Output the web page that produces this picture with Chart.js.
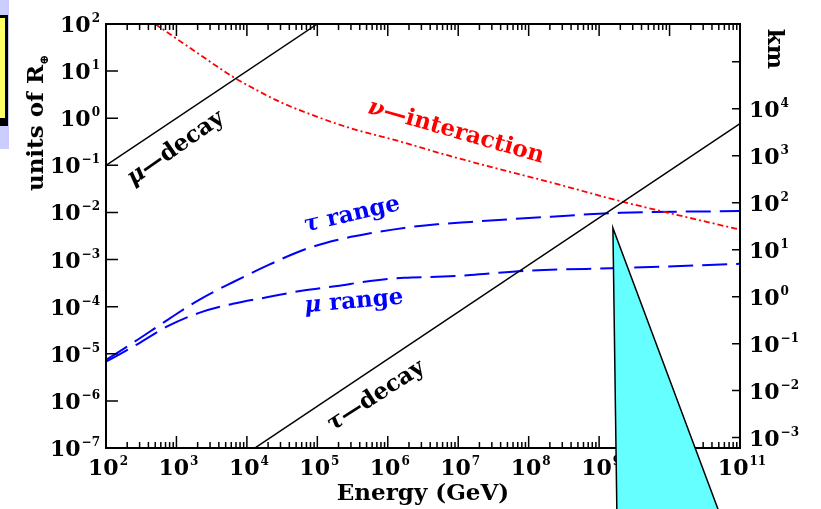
<!DOCTYPE html>
<html lang="en">
<head>
<meta charset="UTF-8">
<title>Decay lengths and ranges</title>
<style>
  body { margin: 0; padding: 0; background: #fff; }
  .wrap { position: relative; width: 821px; height: 509px; }
</style>
</head>
<body>
<div class="wrap"><canvas id="ranges"></canvas></div>
<script src="https://cdn.jsdelivr.net/npm/chart.js"></script>
<script>
// Energies in GeV, lengths in units of the Earth radius
const EARTH_RADIUS_KM = 6371;

const muDecayEnergy = [1e2, 1e5];
const muDecayLength = [1e-1, 1e2];

const tauDecayEnergy = [1e4, 1e11];
const tauDecayLength = [7.7e-8, 0.77];

const nuEnergy = [5e2, 1e3, 2.1e3, 6.3e3, 1.4e4, 3e4, 1e5, 2.9e5, 1.5e6, 7.6e6, 3.9e7, 2e8, 2e9, 1e11];
const nuLength = [100, 49, 22.9, 7.6, 3.9, 2.19, 1.07, 0.62, 0.32, 0.158, 0.083, 0.044, 0.0174, 0.0043];

const rangeEnergy = [1e2, 2.4e2, 7.4e2, 2.1e3, 6.3e3, 2e4, 6.3e4, 1.9e5, 5.6e5, 1.7e6, 5e6, 1.5e7, 1e8, 2e9, 1e11];
const tauRange = [7.4e-6, 1.7e-5, 5.2e-5, 1.4e-4, 3.3e-4, 7.6e-4, 1.6e-3, 2.6e-3, 3.6e-3, 4.7e-3, 5.6e-3, 6.3e-3, 7.6e-3, 9.8e-3, 1.07e-2];
const muRange = [6.8e-6, 1.4e-5, 3.8e-5, 7.4e-5, 1.15e-4, 1.6e-4, 2.2e-4, 2.75e-4, 3.5e-4, 4.1e-4, 4.3e-4, 4.7e-4, 5.8e-4, 6.6e-4, 8.1e-4];

// decade exponents for the tick labels
const energyExps = [2, 3, 4, 5, 6, 7, 8, 9, 10, 11];
const earthExps = [-7, -6, -5, -4, -3, -2, -1, 0, 1, 2];
const kmExps = [-3, -2, -1, 0, 1, 2, 3, 4, 5];
const kmLabelExps = [-3, -2, -1, 0, 1, 2, 3, 4];

// text placed along the curves: greek letter, rest, anchor energy, anchor length, angle
const curveLabels = [
  { greek: 'μ', rest: '—decay', energy: 9.8e2, length: 0.23, angle: -35, color: '#000' },
  { greek: 'ν', rest: '—interaction', energy: 9.3e6, length: 0.51, angle: 16, color: '#ff0000' },
  { greek: 'τ', rest: ' range', energy: 3.1e5, length: 8.9e-3, angle: -13, color: '#0000ff' },
  { greek: 'μ', rest: ' range', energy: 3.3e5, length: 1.26e-4, angle: -5, color: '#0000ff' },
  { greek: 'τ', rest: '—decay', energy: 6.8e5, length: 1.26e-6, angle: -33, color: '#000' }
];

// tip of the cyan pointer
const pointerEnergy = 1.57e9;
const pointerLength = 4.7e-3;

const SERIF = '"DejaVu Serif", serif';
const toPoints = (xs, ys) => xs.map((x, i) => ({ x: x, y: ys[i] }));

function drawPower(ctx, exp, x, cy, align) {
  const sup = String(exp).replace('-', '\u2212');
  ctx.font = 'bold 22px ' + SERIF;
  const wb = ctx.measureText('10').width;
  ctx.font = 'bold 12px ' + SERIF;
  const ws = ctx.measureText(sup).width + 1;
  const total = wb + ws;
  let left = x - total / 2;
  if (align === 'right') left = x - total;
  if (align === 'left') left = x;
  ctx.textAlign = 'left';
  ctx.textBaseline = 'alphabetic';
  ctx.font = 'bold 22px ' + SERIF;
  ctx.fillText('10', left, cy + 8);
  ctx.font = 'bold 12px ' + SERIF;
  ctx.fillText(sup, left + wb + 1, cy - 2);
}

const frame = {
  id: 'frame',
  beforeDraw(chart) {
    const ctx = chart.ctx;
    ctx.save();
    ctx.fillStyle = '#fff';
    ctx.fillRect(0, 0, chart.width, chart.height);
    // side strip with the yellow box
    ctx.fillStyle = '#ccccff';
    ctx.fillRect(0, 0, 9, 149);
    ctx.fillStyle = '#000';
    ctx.fillRect(0, 15, 8, 111);
    ctx.fillStyle = '#ffff66';
    ctx.fillRect(0, 18, 5, 100);
    ctx.restore();
  },
  afterDatasetsDraw(chart) {
    const ctx = chart.ctx;
    const a = chart.chartArea;
    const x = chart.scales.x, y = chart.scales.y, km = chart.scales.km;
    ctx.save();
    ctx.strokeStyle = '#000';
    ctx.fillStyle = '#000';
    ctx.lineWidth = 2;
    ctx.strokeRect(a.left, a.top, a.right - a.left, a.bottom - a.top);

    ctx.lineWidth = 1.5;
    ctx.beginPath();
    energyExps.forEach(e => {
      const px = x.getPixelForValue(Math.pow(10, e));
      ctx.moveTo(px, a.bottom); ctx.lineTo(px, a.bottom - 12);
      ctx.moveTo(px, a.top); ctx.lineTo(px, a.top + 12);
      if (e < 11) {
        for (let k = 2; k <= 9; k++) {
          const pm = x.getPixelForValue(k * Math.pow(10, e));
          ctx.moveTo(pm, a.bottom); ctx.lineTo(pm, a.bottom - 6);
          ctx.moveTo(pm, a.top); ctx.lineTo(pm, a.top + 6);
        }
      }
    });
    earthExps.forEach(e => {
      const py = y.getPixelForValue(Math.pow(10, e));
      ctx.moveTo(a.left, py); ctx.lineTo(a.left + 12, py);
    });
    kmExps.forEach(e => {
      const py = km.getPixelForValue(Math.pow(10, e));
      ctx.moveTo(a.right, py); ctx.lineTo(a.right - 8, py);
    });
    ctx.stroke();

    energyExps.forEach(e => drawPower(ctx, e, x.getPixelForValue(Math.pow(10, e)) + 2, 467, 'center'));
    earthExps.forEach(e => drawPower(ctx, e, a.left - 6, y.getPixelForValue(Math.pow(10, e)), 'right'));
    kmLabelExps.forEach(e => drawPower(ctx, e, a.right + 9, km.getPixelForValue(Math.pow(10, e)), 'left'));

    // axis titles
    ctx.font = 'bold 23px ' + SERIF;
    ctx.textBaseline = 'alphabetic';
    ctx.textAlign = 'center';
    ctx.fillText('Energy (GeV)', (a.left + a.right) / 2, 500);

    ctx.save();
    ctx.translate(43, 123);
    ctx.rotate(-Math.PI / 2);
    ctx.font = 'bold 23px ' + SERIF;
    const w1 = ctx.measureText('units of R').width;
    ctx.font = 'bold 12px ' + SERIF;
    const w2 = ctx.measureText('\u2295').width;
    ctx.textAlign = 'left';
    ctx.font = 'bold 23px ' + SERIF;
    ctx.fillText('units of R', -(w1 + w2) / 2, 0);
    ctx.font = 'bold 12px ' + SERIF;
    ctx.fillText('\u2295', -(w1 + w2) / 2 + w1, 5);
    ctx.restore();

    ctx.save();
    ctx.translate(768, 49);
    ctx.rotate(Math.PI / 2);
    ctx.font = 'bold 23px ' + SERIF;
    ctx.textAlign = 'center';
    ctx.fillText('km', 0, 0);
    ctx.restore();

    // curve names
    curveLabels.forEach(l => {
      const cx = x.getPixelForValue(l.energy);
      const cy = y.getPixelForValue(l.length);
      ctx.save();
      ctx.translate(cx, cy);
      ctx.rotate(l.angle * Math.PI / 180);
      ctx.fillStyle = l.color;
      ctx.textAlign = 'left';
      ctx.font = 'italic bold 23px ' + SERIF;
      const wg = ctx.measureText(l.greek).width;
      ctx.font = 'bold 23px ' + SERIF;
      const wr = ctx.measureText(l.rest).width;
      const start = -(wg + wr) / 2;
      ctx.font = 'italic bold 23px ' + SERIF;
      ctx.fillText(l.greek, start, 6);
      ctx.font = 'bold 23px ' + SERIF;
      ctx.fillText(l.rest, start + wg, 6);
      ctx.restore();
    });
    ctx.restore();
  },
  afterDraw(chart) {
    const ctx = chart.ctx;
    const tx = chart.scales.x.getPixelForValue(pointerEnergy);
    const ty = chart.scales.y.getPixelForValue(pointerLength);
    const h = chart.height - ty;
    ctx.save();
    ctx.beginPath();
    ctx.moveTo(tx, ty);
    ctx.lineTo(tx + h * 0.375, chart.height + 1);
    ctx.lineTo(tx + h * 0.014, chart.height + 1);
    ctx.closePath();
    ctx.fillStyle = '#66ffff';
    ctx.fill();
    ctx.strokeStyle = '#000';
    ctx.lineWidth = 1.5;
    ctx.stroke();
    ctx.restore();
  }
};

const ctx = document.getElementById('ranges').getContext('2d');
new Chart(ctx, {
  type: 'line',
  data: {
    datasets: [
      { label: 'mu decay', data: toPoints(muDecayEnergy, muDecayLength), borderColor: '#000', borderWidth: 1.5, clip: 0 },
      { label: 'tau decay', data: toPoints(tauDecayEnergy, tauDecayLength), borderColor: '#000', borderWidth: 1.5, clip: 0 },
      { label: 'nu interaction', data: toPoints(nuEnergy, nuLength), borderColor: '#ff0000', borderWidth: 1.8,
        borderDash: [6, 3, 2, 3], cubicInterpolationMode: 'monotone', clip: 0 },
      { label: 'tau range', data: toPoints(rangeEnergy, tauRange), borderColor: '#0000ff', borderWidth: 2,
        borderDash: [25, 9], cubicInterpolationMode: 'monotone', clip: 0 },
      { label: 'mu range', data: toPoints(rangeEnergy, muRange), borderColor: '#0000ff', borderWidth: 2,
        borderDash: [25, 9], cubicInterpolationMode: 'monotone', clip: 0 }
    ]
  },
  options: {
    responsive: true,
    maintainAspectRatio: false,
    animation: false,
    layout: { padding: { left: 106, right: 81, top: 24, bottom: 61 } },
    elements: { point: { radius: 0 } },
    plugins: { legend: { display: false }, tooltip: { enabled: false } },
    scales: {
      x: { type: 'logarithmic', min: 1e2, max: 1e11, display: false },
      y: { type: 'logarithmic', min: 1e-7, max: 1e2, display: false },
      km: { type: 'logarithmic', axis: 'y', position: 'right', display: false,
            min: 1e-7 * EARTH_RADIUS_KM, max: 1e2 * EARTH_RADIUS_KM }
    }
  },
  plugins: [frame]
});
</script>
</body>
</html>
